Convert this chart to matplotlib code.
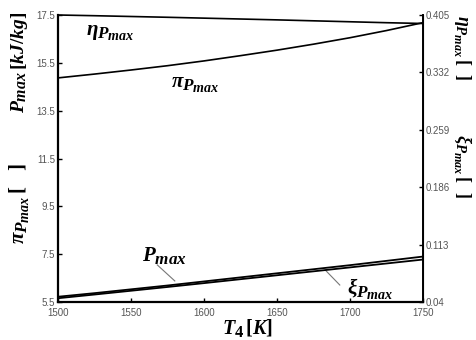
import matplotlib
matplotlib.use("Agg")
import matplotlib.pyplot as plt
import matplotlib._mathtext as _mt
import numpy as np

_mt.SHRINK_FACTOR = 0.82

plt.rcParams['mathtext.fontset'] = 'custom'
plt.rcParams['mathtext.it'] = 'Liberation Serif:italic:bold'
plt.rcParams['mathtext.rm'] = 'Liberation Serif:bold'
plt.rcParams['mathtext.bf'] = 'Liberation Serif:bold'
plt.rcParams['font.family'] = ['Liberation Sans', 'DejaVu Sans']

# data
T4 = [1500, 1525, 1550, 1575, 1600, 1625, 1650, 1675, 1700, 1725, 1750]
pi_Pmax = [14.87, 15.03, 15.20, 15.38, 15.58, 15.80, 16.03, 16.28, 16.55, 16.85, 17.18]
P_max = [5.72, 5.87, 6.03, 6.19, 6.36, 6.53, 6.70, 6.87, 7.04, 7.22, 7.40]
eta_Pmax = [0.4050, 0.4041, 0.4031, 0.4021, 0.4010, 0.3999, 0.3988, 0.3976, 0.3964, 0.3952, 0.3942]
xi_Pmax = [0.0448, 0.0495, 0.0543, 0.0591, 0.0640, 0.0690, 0.0740, 0.0790, 0.0840, 0.0890, 0.0940]

xticks = [1500, 1550, 1600, 1650, 1700, 1750]
lticks = [5.5, 7.5, 9.5, 11.5, 13.5, 15.5, 17.5]
rticks = [0.04, 0.113, 0.186, 0.259, 0.332, 0.405]

fig = plt.figure(figsize=(4.77, 3.40), dpi=100)
ax = fig.add_axes([58/477, 38/340, (423-58)/477, (302-15)/340])
ax2 = ax.twinx()

ax.plot(T4, pi_Pmax, color='black', lw=1.2)
ax.plot(T4, P_max, color='black', lw=1.3)
ax2.plot(T4, eta_Pmax, color='black', lw=1.2, clip_on=False)
ax2.plot(T4, xi_Pmax, color='black', lw=1.3)

ax.set_xlim(1500, 1750)
ax.set_ylim(5.5, 17.5)
ax2.set_ylim(0.04, 0.405)
ax.set_xticks(xticks)
ax.set_xticklabels([str(t) for t in xticks])
ax.set_yticks(lticks)
ax.set_yticklabels([str(t) for t in lticks])
ax2.set_yticks(rticks)
ax2.set_yticklabels([f"{t:g}" for t in rticks])

for a in (ax, ax2):
    a.spines['top'].set_visible(False)
    a.tick_params(direction='in', length=3, width=1, labelsize=7, labelcolor='#555555', pad=2)
ax.tick_params(axis='x', pad=4)
ax.spines['left'].set_linewidth(1.6)
ax.spines['bottom'].set_linewidth(1.6)
ax2.spines['right'].set_linewidth(1.4)
ax2.spines['left'].set_visible(False)
ax2.spines['bottom'].set_visible(False)

# in-plot labels
ax.text(1536, 16.72, r'$\eta_{P_{max}}$', fontsize=15, ha='center', va='center')
ax.text(1594, 14.55, r'$\pi_{P_{max}}$', fontsize=15, ha='center', va='center')
ax.text(1573, 7.45, r'$P_{max}$', fontsize=15, ha='center', va='center')
ax.plot([1568, 1580], [7.05, 6.38], color='#777777', lw=0.8)
ax.text(1714, 6.05, r'$\xi_{P_{max}}$', fontsize=15, ha='center', va='center')
ax.plot([1683, 1693], [6.84, 6.21], color='#777777', lw=0.8)

# axis labels
fig.text(248/477, 1 - 328/340, r'$T_4\,[K]$', fontsize=14.5, ha='center', va='center')
fig.text(20/477, 1 - 62/340, r'$P_{max}\,[kJ/kg]$', fontsize=14, ha='center', va='center', rotation=90)
fig.text(20/477, 1 - 203/340, r'$\pi_{P_{max}}\,[\ \ \ ]$', fontsize=15, ha='center', va='center', rotation=90)
fig.text(462/477, 1 - 48/340, r'$\eta_{P_{max}}\,[\ \ ]$', fontsize=13, ha='center', va='center', rotation=-90)
fig.text(462/477, 1 - 166/340, r'$\xi_{P_{max}}\,[\ \ ]$', fontsize=13, ha='center', va='center', rotation=-90)

fig.savefig('out.png', dpi=100)
